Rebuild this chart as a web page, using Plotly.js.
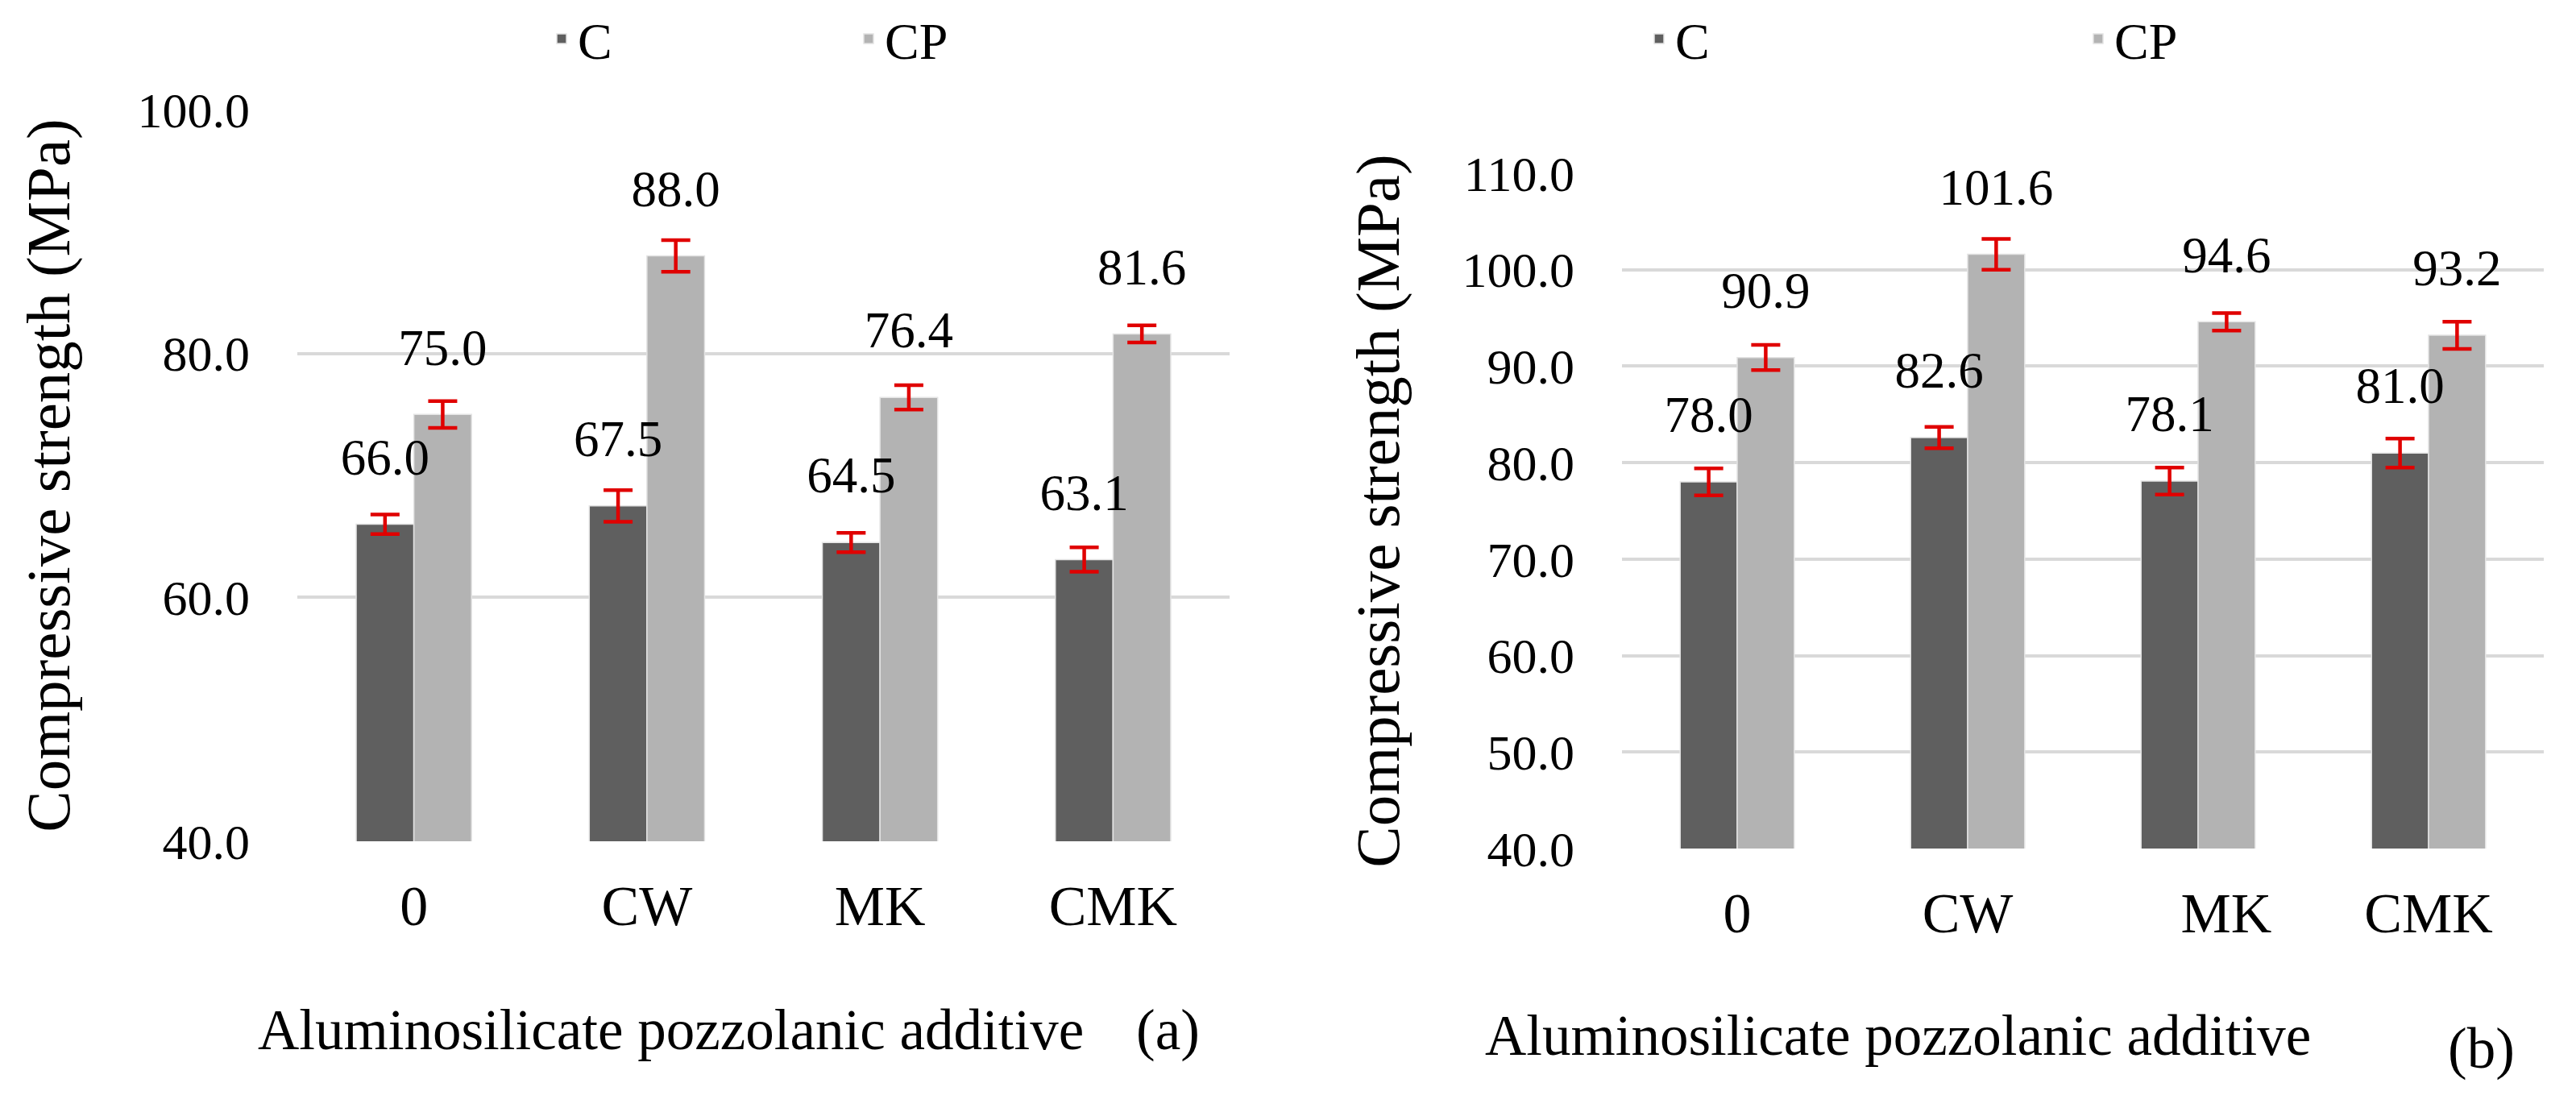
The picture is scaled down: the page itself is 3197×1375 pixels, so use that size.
<!DOCTYPE html>
<html>
<head>
<meta charset="utf-8">
<script src="https://cdn.plot.ly/plotly-3.0.1.min.js"></script>
<style>
html, body { margin: 0; padding: 0; background: #ffffff; }
#chart { width: 3197px; height: 1375px; }
</style>
</head>
<body>
<div id="chart"></div>
<script>
// ---------- data ----------
const categories = ['0', 'CW', 'MK', 'CMK'];
const seriesNames = ['C', 'CP'];

const leftC = [66.0, 67.5, 64.5, 63.1];
const leftCP = [75.0, 88.0, 76.4, 81.6];
const leftCErr = [0.8, 1.3, 0.8, 1.0];
const leftCPErr = [1.1, 1.3, 1.0, 0.7];

const rightC = [78.0, 82.6, 78.1, 81.0];
const rightCP = [90.9, 101.6, 94.6, 93.2];
const rightCErr = [1.4, 1.1, 1.4, 1.5];
const rightCPErr = [1.3, 1.6, 0.9, 1.4];

const leftYTicks = [40, 60, 80, 100];
const rightYTicks = [40, 50, 60, 70, 80, 90, 100, 110];
const leftXTickLabels = ['0', 'CW', 'MK', 'CMK'];
const rightXTickLabels = ['0', 'CW', '\u00a0\u00a0\u00a0\u00a0MK', 'CMK'];

const yTitle = 'Compressive strength (MPa)';
const xTitle = 'Aluminosilicate pozzolanic additive';
const panelTags = ['(a)', '(b)'];

// ---------- styling ----------
const W = 3197, H = 1375;
const FONT = 'Liberation Serif, Times New Roman, serif';
const colorC = '#5f5f5f';
const colorCP = '#b3b3b3';
const errColor = '#e00000';
const px = v => v / W;
const py = v => 1 - v / H;

function barTrace(name, y, err, color, xa, ya, grp, legend) {
  return {
    type: 'bar', name: name, x: categories, y: y,
    xaxis: xa, yaxis: ya, offsetgroup: grp, alignmentgroup: xa,
    legend: legend, showlegend: true,
    marker: { color: color, line: { color: '#e4e4e4', width: 1.5 } },
    error_y: { type: 'data', array: err, visible: true, color: errColor, thickness: 4.5, width: 18 },
    hoverinfo: 'x+y+name'
  };
}
function labelTrace(y, xa, ya, grp) {
  return {
    type: 'scatter', mode: 'markers+text', x: categories, y: y,
    xaxis: xa, yaxis: ya, offsetgroup: grp, alignmentgroup: xa,
    text: y.map(v => v.toFixed(1)), textposition: 'top center',
    textfont: { family: FONT, size: 63, color: '#000000' },
    marker: { size: 72, opacity: 0, color: '#ffffff' },
    showlegend: false, hoverinfo: 'skip', cliponaxis: false
  };
}

const data = [
  barTrace(seriesNames[0], leftC, leftCErr, colorC, 'x', 'y', 'g1', 'legend'),
  barTrace(seriesNames[1], leftCP, leftCPErr, colorCP, 'x', 'y', 'g2', 'legend2'),
  barTrace(seriesNames[0], rightC, rightCErr, colorC, 'x2', 'y2', 'g1', 'legend3'),
  barTrace(seriesNames[1], rightCP, rightCPErr, colorCP, 'x2', 'y2', 'g2', 'legend4'),
  labelTrace(leftC, 'x', 'y', 'g1'),
  labelTrace(leftCP, 'x', 'y', 'g2'),
  labelTrace(rightC, 'x2', 'y2', 'g1'),
  labelTrace(rightCP, 'x2', 'y2', 'g2')
];

function xAxis(domain, anchor, ticktext) {
  return {
    domain: domain, anchor: anchor, type: 'category',
    tickmode: 'array', tickvals: categories, ticktext: ticktext,
    showgrid: false, showline: false, zeroline: false, ticks: '',
    tickfont: { family: FONT, size: 70, color: '#000000' },
    ticklabelstandoff: 33, fixedrange: true
  };
}
function yAxis(domain, anchor, range, ticks, standoff) {
  return {
    domain: domain, anchor: anchor, range: range,
    tickmode: 'array', tickvals: ticks, ticktext: ticks.map(v => v.toFixed(1)),
    showgrid: true, gridcolor: '#d9d9d9', gridwidth: 4,
    showline: false, zeroline: false, ticks: '',
    tickfont: { family: FONT, size: 62, color: '#000000' },
    ticklabelstandoff: 58, fixedrange: true,
    title: { text: yTitle, font: { family: FONT, size: 77, color: '#000000' }, standoff: standoff }
  };
}

const legendBase = {
  orientation: 'h', xanchor: 'left', yanchor: 'top',
  font: { family: FONT, size: 64, color: '#000000' },
  bgcolor: 'rgba(0,0,0,0)', borderwidth: 0, valign: 'middle'
};
const legendAt = (x, y) => Object.assign({}, legendBase, { x: px(x), y: py(y) });

const layout = {
  width: W, height: H, autosize: false,
  margin: { l: 0, r: 0, t: 0, b: 0 },
  paper_bgcolor: '#ffffff', plot_bgcolor: '#ffffff',
  font: { family: FONT, color: '#000000' },
  barmode: 'group', bargap: 0.505, bargroupgap: 0,
  scattermode: 'group', scattergap: 0.505,
  xaxis: xAxis([px(369), px(1526)], 'y', leftXTickLabels),
  yaxis: yAxis([py(1044), py(136)], 'x', [40, 100], leftYTicks, 58),
  xaxis2: xAxis([px(2013), px(3157)], 'y2', rightXTickLabels),
  yaxis2: yAxis([py(1053), py(215)], 'x2', [40, 110], rightYTicks, 52),
  legend: legendAt(677, 0),
  legend2: legendAt(1058, 0),
  legend3: legendAt(2039, 0),
  legend4: legendAt(2584, 0),
  annotations: [
    { xref: 'paper', yref: 'paper', x: px(318), y: py(1278), xanchor: 'left', yanchor: 'middle',
      text: xTitle, showarrow: false, font: { family: FONT, size: 71, color: '#000000' } },
    { xref: 'paper', yref: 'paper', x: px(1408), y: py(1278), xanchor: 'left', yanchor: 'middle',
      text: panelTags[0], showarrow: false, font: { family: FONT, size: 71, color: '#000000' } },
    { xref: 'paper', yref: 'paper', x: px(1841), y: py(1285), xanchor: 'left', yanchor: 'middle',
      text: xTitle, showarrow: false, font: { family: FONT, size: 71, color: '#000000' } },
    { xref: 'paper', yref: 'paper', x: px(3036), y: py(1301), xanchor: 'left', yanchor: 'middle',
      text: panelTags[1], showarrow: false, font: { family: FONT, size: 71, color: '#000000' } }
  ],
  showlegend: true
};

Plotly.newPlot('chart', data, layout, { staticPlot: true, displayModeBar: false });
</script>
</body>
</html>
